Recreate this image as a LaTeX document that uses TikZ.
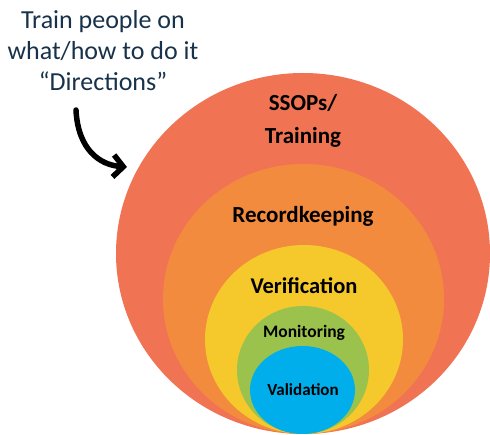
\documentclass[tikz,border=0pt]{standalone}
\usepackage{fontspec}
\setmainfont{Carlito}
\usetikzlibrary{arrows.meta}
\definecolor{cred}{HTML}{F07453}
\definecolor{corange}{HTML}{F38B3F}
\definecolor{cyellow}{HTML}{F5C92C}
\definecolor{cgreen}{HTML}{9BC24D}
\definecolor{cblue}{HTML}{00AEEC}
\definecolor{navy}{HTML}{17324A}
\tikzset{
  ring/.style={draw=none},
  lbl/.style={font=\bfseries, text=black, inner sep=0pt, align=center},
  note/.style={font=\fontsize{26}{31}\selectfont, text=navy, align=center, inner sep=0pt},
  curvearrow/.style={line width=5.5pt, -{Straight Barb[length=10pt,width=22pt,line width=5.5pt]}, line cap=round}
}
\begin{document}
\begin{tikzpicture}[x=1pt,y=-1pt]
\useasboundingbox (0,0) rectangle (490,435);
\fill[cred,ring] (303,253.5) ellipse [x radius=187, y radius=180.5];
\fill[corange,ring] (303.5,299) ellipse [x radius=140.5, y radius=135];
\fill[cyellow,ring] (304,339.5) ellipse [x radius=99, y radius=94.5];
\fill[cgreen,ring] (303,370) ellipse [x radius=66, y radius=64];
\fill[cblue,ring] (302.5,390) ellipse [x radius=52.5, y radius=44];
\node[lbl, font=\fontsize{23}{33}\selectfont\bfseries] (ssop) at (303,121) {SSOPs/\\Training};
\node[lbl, font=\fontsize{23}{28}\selectfont\bfseries] (rec) at (303,216) {Recordkeeping};
\node[lbl, font=\fontsize{22.5}{27}\selectfont\bfseries] (ver) at (304,286) {Verification};
\node[lbl, font=\fontsize{17.5}{21}\selectfont\bfseries] (mon) at (304,333) {Monitoring};
\node[lbl, font=\fontsize{17}{21}\selectfont\bfseries] (val) at (303,390) {Validation};
\node[note] (note) at (103,51) {Train people on\\what/how to do it\\“Directions”};
\coordinate (astart) at (76,110);
\coordinate (aend) at (127,167);
\draw[curvearrow] (astart) .. controls (78,150) and (100,165) .. (aend);
\end{tikzpicture}
\end{document}
